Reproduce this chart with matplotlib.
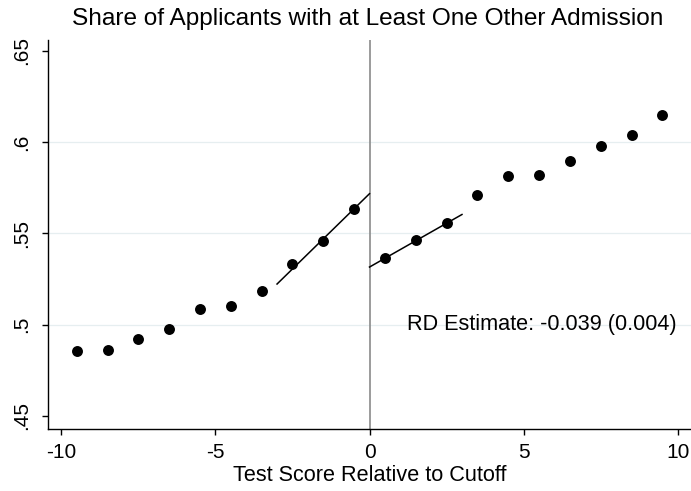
import numpy as np
import matplotlib.pyplot as plt

plt.rcParams['font.family'] = ['Liberation Sans', 'DejaVu Sans']

# binned means
bins_left = [-9.5, -8.5, -7.5, -6.5, -5.5, -4.5, -3.5, -2.5, -1.5, -0.5]
share_left = [0.4857, 0.4863, 0.4921, 0.4976, 0.5086, 0.5104, 0.5183, 0.5333, 0.5457, 0.5636]
bins_right = [0.5, 1.5, 2.5, 3.5, 4.5, 5.5, 6.5, 7.5, 8.5, 9.5]
share_right = [0.5363, 0.5462, 0.5557, 0.5712, 0.5815, 0.5819, 0.5898, 0.5982, 0.6038, 0.6150]

# local linear fits (endpoints)
fit_left_x = [-3.0, 0.0]
fit_left_y = [0.5223, 0.5718]
fit_right_x = [0.0, 3.0]
fit_right_y = [0.5316, 0.5604]

yticks = [0.45, 0.5, 0.55, 0.6, 0.65]
ytick_labels = ['.45', '.5', '.55', '.6', '.65']
xticks = [-10, -5, 0, 5, 10]

fig = plt.figure(figsize=(6.91, 4.91), dpi=100)
ax = fig.add_axes([0.0695, 0.1253, 0.9305, 0.7932])

for y in [0.5, 0.55, 0.6]:
    ax.axhline(y, color='#e6eef0', lw=0.9, zorder=0)
ax.axvline(0, color='#8a8a8a', lw=1.2, zorder=1)

ax.plot(fit_left_x, fit_left_y, color='black', lw=1.1, zorder=2)
ax.plot(fit_right_x, fit_right_y, color='black', lw=1.1, zorder=2)
ax.scatter(bins_left, share_left, s=62, color='black', zorder=3, linewidths=0)
ax.scatter(bins_right, share_right, s=62, color='black', zorder=3, linewidths=0)

ax.text(9.97, 0.5, 'RD Estimate: -0.039 (0.004)', ha='right', va='center', fontsize=15.6)

ax.set_xlim(-10.43, 10.43)
ax.set_ylim(0.4426, 0.656)
ax.set_xticks(xticks)
ax.set_xticklabels([str(t) for t in xticks])
ax.set_yticks(yticks)
ax.set_yticklabels(ytick_labels, rotation=90, va='center')
ax.tick_params(axis='both', direction='out', length=4.5, width=1, labelsize=15)
ax.tick_params(axis='x', pad=5.5)
ax.tick_params(axis='y', pad=8)
ax.spines['top'].set_visible(False)
ax.spines['right'].set_visible(False)
ax.spines['left'].set_linewidth(1)
ax.spines['bottom'].set_linewidth(1)

ax.set_xlabel('Test Score Relative to Cutoff', fontsize=15.6, labelpad=2)
fig.text(368 / 691, 1 - 19 / 491, 'Share of Applicants with at Least One Other Admission',
         ha='center', va='center', fontsize=17.6)

fig.savefig('out.png', dpi=100)
